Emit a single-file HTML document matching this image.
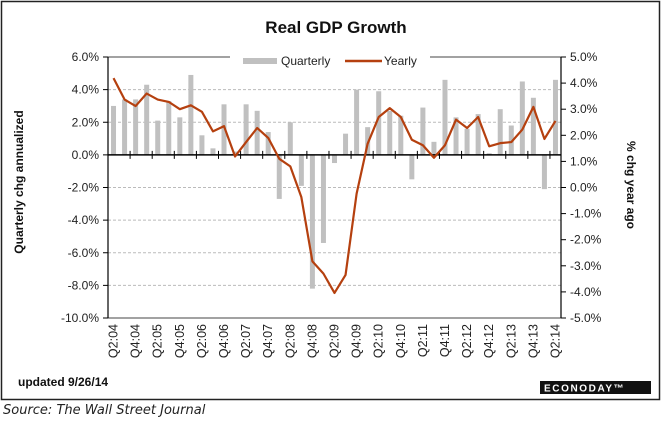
<!DOCTYPE html>
<html><head><meta charset="utf-8"><style>
body{margin:0;background:#fff;}
svg{display:block;font-family:"Liberation Sans",Arial,sans-serif;}
</style></head><body>
<svg width="662" height="422" viewBox="0 0 662 422">
<rect x="1.5" y="1.5" width="658" height="398" fill="#fff" stroke="#222" stroke-width="1.5"/>
<text x="336" y="33" font-size="17" font-weight="bold" text-anchor="middle" fill="#111">Real GDP Growth</text>
<g id="grid"></g>
<g id="bars"></g>
<g id="axes"></g>
<g id="line"></g>
<g>
<rect x="230" y="50" width="200" height="14" fill="#fff"/>
<rect x="243" y="58" width="34" height="6" fill="#c0c0c0"/>
<text x="281" y="65" font-size="12" fill="#222">Quarterly</text>
<line x1="345" y1="61" x2="382" y2="61" stroke="#b5400f" stroke-width="2.5"/>
<text x="384" y="65" font-size="12" fill="#222">Yearly</text>
</g>
<text transform="translate(23,182) rotate(-90)" font-size="12" font-weight="bold" text-anchor="middle" fill="#111">Quarterly chg annualized</text>
<text transform="translate(627,185) rotate(90)" font-size="12" font-weight="bold" text-anchor="middle" fill="#111">% chg year ago</text>
<text x="18" y="386" font-size="12" font-weight="bold" fill="#111">updated 9/26/14</text>
<rect x="540" y="381" width="111" height="13" fill="#111"/>
<text x="544" y="391.5" font-size="10" font-weight="bold" fill="#fff" letter-spacing="1.6">ECONODAY™</text>
<text x="3" y="414" font-size="13" font-style="italic" fill="#222" font-family="'DejaVu Sans',sans-serif">Source: The Wall Street Journal</text>
</svg>
<script>
const quarterly=[3.0,3.4,3.4,4.3,2.1,3.3,2.3,4.9,1.2,0.4,3.1,0.2,3.1,2.7,1.4,-2.7,2.0,-1.9,-8.2,-5.4,-0.5,1.3,4.0,1.7,3.9,2.7,2.4,-1.5,2.9,0.8,4.6,2.3,1.6,2.5,0.1,2.8,1.8,4.5,3.5,-2.1,4.6];
const yearly=[4.19,3.37,3.12,3.6,3.37,3.28,3.0,3.15,2.9,2.15,2.35,1.19,1.74,2.28,1.9,1.1,0.81,-0.37,-2.83,-3.3,-4.04,-3.35,-0.24,1.68,2.7,3.04,2.7,1.83,1.62,1.14,1.62,2.6,2.28,2.7,1.58,1.7,1.74,2.22,3.09,1.86,2.55];
const leftTicks=[6,4,2,0,-2,-4,-6,-8,-10];
const rightTicks=[5,4,3,2,1,0,-1,-2,-3,-4,-5];
const years=['04','05','06','07','08','09','10','11','12','13','14'];
const NS='http://www.w3.org/2000/svg';
const X0=108,X1=561,YT=57,YB=318;
const n=quarterly.length,bw=(X1-X0)/n;
const xc=i=>X0+bw*(i+0.5);
const yL=v=>YT+(6-v)*(YB-YT)/16;
const yR=v=>YT+(5-v)*(YB-YT)/10;
function mk(tag,attrs,parent){const e=document.createElementNS(NS,tag);for(const k in attrs)e.setAttribute(k,attrs[k]);document.getElementById(parent).appendChild(e);return e;}
leftTicks.forEach(v=>{
 if(v!==6&&v!==-10&&v!==0){const g=mk('line',{x1:X0,x2:X1,y1:yL(v),y2:yL(v),stroke:'#bbb','stroke-dasharray':'3,2','stroke-width':1},'grid');
 
 }
 const t=mk('line',{x1:X0-5,x2:X0,y1:yL(v),y2:yL(v),stroke:'#000'},'axes');
 const l=mk('text',{x:X0-9,y:yL(v)+4,'font-size':12,'text-anchor':'end',fill:'#222'},'axes');
 l.textContent=v.toFixed(1)+'%';
 
 
});
rightTicks.forEach(v=>{
 mk('line',{x1:X1,x2:X1+5,y1:yR(v),y2:yR(v),stroke:'#000'},'axes');
 const l=mk('text',{x:X1+9,y:yR(v)+4,'font-size':12,fill:'#222'},'axes');
 l.textContent=v.toFixed(1)+'%';
 
 
});
mk('line',{x1:X0,x2:X1,y1:YT,y2:YT,stroke:'#444'},'axes');
mk('line',{x1:X0,x2:X1,y1:YB,y2:YB,stroke:'#444'},'axes');
mk('line',{x1:X0,x2:X0,y1:YT,y2:YB,stroke:'#000','stroke-width':1.2},'axes');
mk('line',{x1:X1,x2:X1,y1:YT,y2:YB,stroke:'#000','stroke-width':1.2},'axes');
quarterly.forEach((v,i)=>{
 const y0=yL(0),y1=yL(v);
 const r=mk('rect',{x:xc(i)-2.5,width:5,y:Math.min(y0,y1),height:Math.abs(y1-y0),fill:'#c0c0c0'},'bars');
 
 
});
mk('line',{x1:X0,x2:X1,y1:yL(0),y2:yL(0),stroke:'#000','stroke-width':1.5},'axes');
for(let i=0;i<=n;i+=2){const x=X0+bw*i;mk('line',{x1:x,x2:x,y1:yL(0)-4,y2:yL(0)+4,stroke:'#000'},'axes');}
for(let i=0;i<n;i+=2){
 const q=(i%4===0)?'Q2':'Q4';const yr=years[Math.floor(i/4)];
 const l=mk('text',{transform:`translate(${xc(i)+4},324) rotate(-90)`,'font-size':12.5,'text-anchor':'end',fill:'#222'},'axes');
 l.textContent=q+':'+yr;
 
 
}
const p=mk('polyline',{points:yearly.map((v,i)=>xc(i)+','+yR(v)).join(' '),fill:'none',stroke:'#b5400f','stroke-width':2.2,'stroke-linejoin':'round'},'line');


</script>
</body></html>
